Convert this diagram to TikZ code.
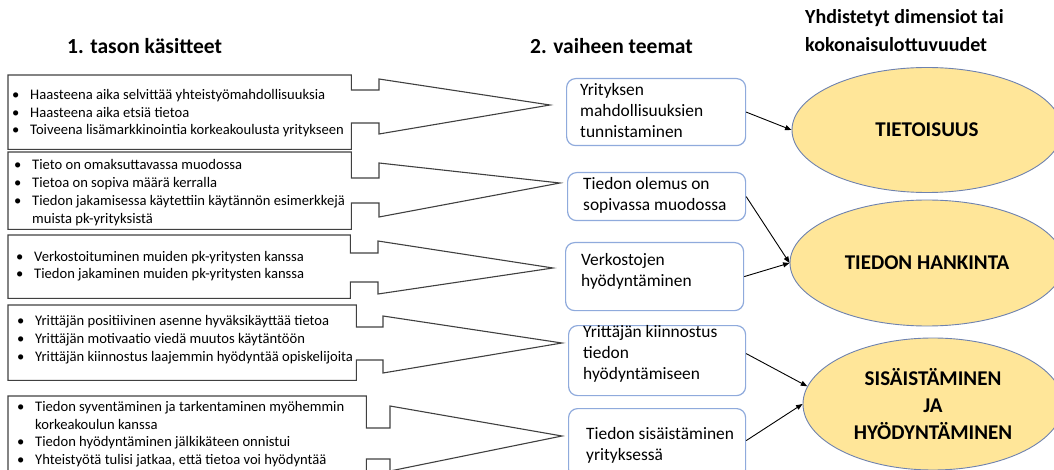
\documentclass[tikz,border=0pt]{standalone}
\usepackage{fontspec}
\setmainfont{Carlito}
\usetikzlibrary{arrows.meta,shapes.geometric}
\definecolor{boxline}{RGB}{64,64,64}
\definecolor{themeblue}{RGB}{143,170,220}
\definecolor{goldfill}{RGB}{255,230,153}
\definecolor{ellline}{RGB}{110,130,175}

% outline of a concept box merged with its block arrow
% #1 box, #2/#3 shaft top/bottom, #4/#5 head top/bottom, #6 head base x, #7/#8 tip
\newcommand\boxarrow[8]{%
  \draw[lline] (#1.north west) -- (#1.north east) -- (#1.east |- 0,#2) -- (#6,#2)
    -- (#6,#4) -- (#7,#8) -- (#6,#5) -- (#6,#3) -- (#1.east |- 0,#3)
    -- (#1.south east) -- (#1.south west) -- cycle;}

\begin{document}
\begin{tikzpicture}[x=1pt,y=-1pt,
  hdr/.style={font=\fontsize{21.5}{28}\selectfont\bfseries, inner sep=0, anchor=west, align=left},
  lbox/.style={draw=none, inner sep=0, anchor=north west},
  lline/.style={draw=boxline, line width=1.1pt, line join=miter},
  ltext/.style={font=\fontsize{14.6}{17.7}\selectfont, inner sep=0, anchor=west},
  theme/.style={draw=themeblue, line width=1.2pt, rounded corners=9pt, fill=white, inner sep=0, anchor=north west},
  ttext/.style={font=\fontsize{17.4}{21}\selectfont, inner sep=0, anchor=west, align=left},
  dim/.style={ellipse, draw=ellline, line width=0.9pt, fill=goldfill, inner sep=0,
    font=\fontsize{21}{27}\selectfont\bfseries, align=center},
  link/.style={-{Triangle[length=6.5pt,width=5pt]}, line width=0.9pt, black}
]
\useasboundingbox (0,0) rectangle (1054,470);
\clip (0,0) rectangle (1054,470);

% column headings
\node[hdr] (h1) at (67,46) {1. tason käsitteet};
\node[hdr] (h2) at (530,46) {2. vaiheen teemat};
\node[hdr, font=\fontsize{20}{28}\selectfont\bfseries] (h3) at (805,31) {Yhdistetyt dimensiot tai\\kokonaisulottuvuudet};

% first-level concepts
\node[lbox, minimum width=343, minimum height=74] (b1) at (8,75) {};
\node[lbox, minimum width=343, minimum height=77] (b2) at (8,152) {};
\node[lbox, minimum width=342, minimum height=63] (b3) at (8,235) {};
\node[lbox, minimum width=348, minimum height=75] (b4) at (8,305) {};
\node[lbox, minimum width=358, minimum height=90] (b5) at (8,396) {};

\boxarrow{b1}{90}{123}{79}{134}{379}{550}{105}
\boxarrow{b2}{178}{203}{163}{217}{379}{560}{183}
\boxarrow{b3}{253}{282}{241}{294}{378}{553}{268}
\boxarrow{b4}{327}{360}{316}{373}{383}{562}{343}
\boxarrow{b5}{428}{459}{406}{471}{390}{562}{436}

\node[ltext] (t1) at (12,113.5) {\begin{tabular}{@{}p{18pt}@{}l@{}}
\textbullet & Haasteena aika selvittää yhteistyömahdollisuuksia\\
\textbullet & Haasteena aika etsiä tietoa\\
\textbullet & Toiveena lisämarkkinointia korkeakoulusta  yritykseen
\end{tabular}};
\node[ltext] (t2) at (14,193) {\begin{tabular}{@{}p{18pt}@{}l@{}}
\textbullet & Tieto on omaksuttavassa muodossa\\
\textbullet & Tietoa on  sopiva määrä kerralla\\
\textbullet & Tiedon jakamisessa käytettiin käytännön esimerkkejä\\
 & muista pk-yrityksistä
\end{tabular}};
\node[ltext] (t3) at (16,266.5) {\begin{tabular}{@{}p{18pt}@{}l@{}}
\textbullet & Verkostoituminen  muiden pk-yritysten kanssa\\
\textbullet & Tiedon jakaminen muiden pk-yritysten kanssa
\end{tabular}};
\node[ltext] (t4) at (17,340) {\begin{tabular}{@{}p{18pt}@{}l@{}}
\textbullet & Yrittäjän positiivinen asenne hyväksikäyttää tietoa\\
\textbullet & Yrittäjän motivaatio viedä muutos  käytäntöön\\
\textbullet & Yrittäjän kiinnostus laajemmin hyödyntää opiskelijoita
\end{tabular}};
\node[ltext] (t5) at (17,434.5) {\begin{tabular}{@{}p{18pt}@{}l@{}}
\textbullet & Tiedon syventäminen ja tarkentaminen  myöhemmin\\
 & korkeakoulun  kanssa\\
\textbullet & Tiedon hyödyntäminen  jälkikäteen onnistui\\
\textbullet & Yhteistyötä tulisi jatkaa, että tietoa voi hyödyntää
\end{tabular}};

% second-phase themes
\node[theme, minimum width=179, minimum height=67] (m1) at (566,78) {};
\node[theme, minimum width=178, minimum height=48] (m2) at (567,172) {};
\node[theme, minimum width=178, minimum height=68] (m3) at (565,242) {};
\node[theme, minimum width=177, minimum height=70] (m4) at (568,325) {};
\node[theme, minimum width=177, minimum height=70] (m5) at (568,408) {};

\node[ttext] (m1t) at (580,110.5) {Yrityksen\\mahdollisuuksien\\tunnistaminen};
\node[ttext] (m2t) at (583,195) {Tiedon olemus on\\sopivassa muodossa};
\node[ttext] (m3t) at (581,271.5) {Verkostojen\\hyödyntäminen};
\node[ttext] (m4t) at (583,354) {Yrittäjän kiinnostus\\tiedon\\hyödyntämiseen};
\node[ttext] (m5t) at (586,445) {Tiedon sisäistäminen\\yrityksessä};

% combined dimensions
\node[dim, minimum width=270, minimum height=125] (e1) at (927,130) {TIETOISUUS};
\node[dim, minimum width=274, minimum height=126] (e2) at (927,263) {TIEDON HANKINTA};
\node[dim, minimum width=260, minimum height=132] (e3) at (933,404) {SISÄISTÄMINEN\\JA\\HYÖDYNTÄMINEN};

% theme -> dimension links
\draw[link] (m1.east) -- (e1.west);
\draw[link] (m2.east) -- (e2.west);
\draw[link] (m3.east) -- (e2.west);
\draw[link] ([yshift=7pt]m4.east) -- (e3.172);
\draw[link] ([yshift=3pt]m5.east) -- (e3.west);
\end{tikzpicture}
\end{document}
